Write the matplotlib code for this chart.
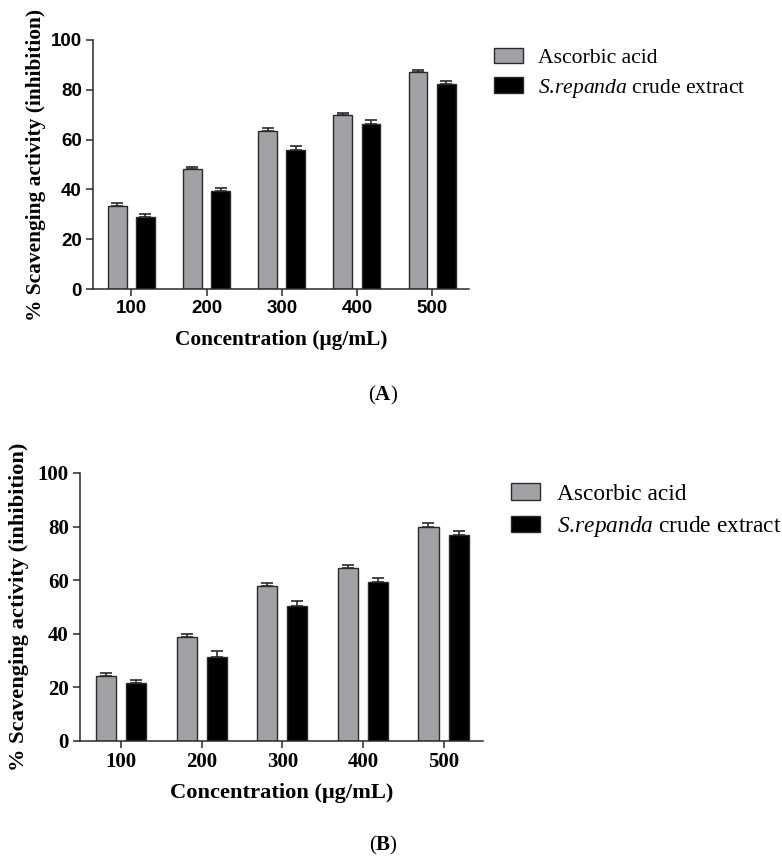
"""
DPPH / ABTS scavenging activity: ascorbic acid vs S.repanda crude extract
"""
import numpy as np
import matplotlib
matplotlib.use("Agg")
import matplotlib.pyplot as plt

# data
conc = ["100", "200", "300", "400", "500"]

ascorbic_a = [33.5, 48.0, 63.5, 69.8, 87.3]
ascorbic_a_err = [1.0, 1.0, 1.3, 1.0, 0.8]
extract_a = [29.0, 39.3, 55.8, 66.2, 82.4]
extract_a_err = [1.2, 1.2, 1.7, 1.8, 1.2]

ascorbic_b = [24.3, 38.9, 57.9, 64.6, 79.8]
ascorbic_b_err = [1.1, 1.0, 0.9, 0.9, 1.7]
extract_b = [21.6, 31.3, 50.3, 59.3, 76.7]
extract_b_err = [1.1, 2.3, 2.1, 1.7, 1.8]

GRAY = "#a2a2a6"
EDGE = "#2a2a2a"
W, H = 782, 858


def panel(fig, rect, asc, asc_err, ext, ext_err, tick_font, label_size, ylab_x, xlab_y):
    ax = fig.add_axes(rect)
    x = np.arange(len(conc))
    bw = 0.25
    off = 0.187
    ax.bar(x - off, asc, bw, color=GRAY, edgecolor=EDGE, linewidth=1.0,
           label="Ascorbic acid", zorder=2)
    ax.bar(x + off, ext, bw, color="black", edgecolor=EDGE, linewidth=1.0,
           label="$\\it{S}$.$\\it{repanda}$ crude extract", zorder=2)
    # one-sided (upper) error bars
    ax.errorbar(x - off, asc, yerr=[np.zeros(len(asc)), asc_err], fmt="none",
                ecolor=EDGE, elinewidth=1.2, capsize=4.5, capthick=1.2, zorder=1)
    ax.errorbar(x + off, ext, yerr=[np.zeros(len(ext)), ext_err], fmt="none",
                ecolor=EDGE, elinewidth=1.2, capsize=4.5, capthick=1.2, zorder=1)

    ax.set_xlim(-0.51, 4.49)
    ax.set_ylim(0, 100)
    ax.set_yticks([0, 20, 40, 60, 80, 100])
    ax.set_xticks(x)
    ax.set_xticklabels(conc)
    for s in ["top", "right"]:
        ax.spines[s].set_visible(False)
    for s in ["left", "bottom"]:
        ax.spines[s].set_linewidth(1.1)
        ax.spines[s].set_color(EDGE)
    ax.tick_params(axis="both", length=5, width=1.1, color=EDGE, pad=3)
    for lab in ax.get_xticklabels() + ax.get_yticklabels():
        lab.set_fontfamily(tick_font[0])
        lab.set_fontsize(tick_font[1])
        lab.set_fontweight("bold")

    ax.set_ylabel("% Scavenging activity (inhibition)", family="Liberation Serif",
                  fontsize=label_size, fontweight="bold")
    ax.set_xlabel("Concentration (μg/mL)", family="Liberation Serif",
                  fontsize=label_size, fontweight="bold")
    ax.yaxis.set_label_coords(ylab_x, 0.5)
    ax.xaxis.set_label_coords(0.5, xlab_y)
    return ax


def main():
    plt.rcParams["mathtext.fontset"] = "custom"
    plt.rcParams["mathtext.it"] = "Liberation Serif:italic"
    plt.rcParams["mathtext.rm"] = "Liberation Serif"
    plt.rcParams["mathtext.bf"] = "Liberation Serif:bold"

    fig = plt.figure(figsize=(W / 100, H / 100), dpi=100)

    # panel A (pixel box: left 93, right 469, top 40, bottom 289)
    ax_a = panel(fig, [93 / W, 1 - 289 / H, (469 - 93) / W, (289 - 40) / H],
                 ascorbic_a, ascorbic_a_err, extract_a, extract_a_err,
                 ("Liberation Sans", 13.5), 15.4, -0.125, -0.165)
    # panel B (pixel box: left 80, right 483, top 473, bottom 741)
    ax_b = panel(fig, [80 / W, 1 - 741 / H, (483 - 80) / W, (741 - 473) / H],
                 ascorbic_b, ascorbic_b_err, extract_b, extract_b_err,
                 ("Liberation Serif", 15), 16.2, -0.127, -0.157)

    # legends sit to the right of each panel
    legend_setup = [(ax_a, (485 / W, 1 - 39 / H), 15.6), (ax_b, (502 / W, 1 - 474 / H), 16.8)]
    for ax, anchor, size in legend_setup:
        h, l = ax.get_legend_handles_labels()
        fig.legend(h, l, loc="upper left", bbox_to_anchor=anchor,
                   frameon=False, prop={"family": "Liberation Serif", "size": size},
                   handlelength=21 / size, handleheight=0.72, handletextpad=0.7,
                   labelspacing=0.4, borderaxespad=0)

    fig.text(383 / W, 1 - 395 / H, "($\\mathbf{A}$)", ha="center", va="center",
             family="Liberation Serif", fontsize=15)
    fig.text(383 / W, 1 - 845 / H, "($\\mathbf{B}$)", ha="center", va="center",
             family="Liberation Serif", fontsize=15)

    fig.savefig("out.png", dpi=100)


if __name__ == "__main__":
    main()
